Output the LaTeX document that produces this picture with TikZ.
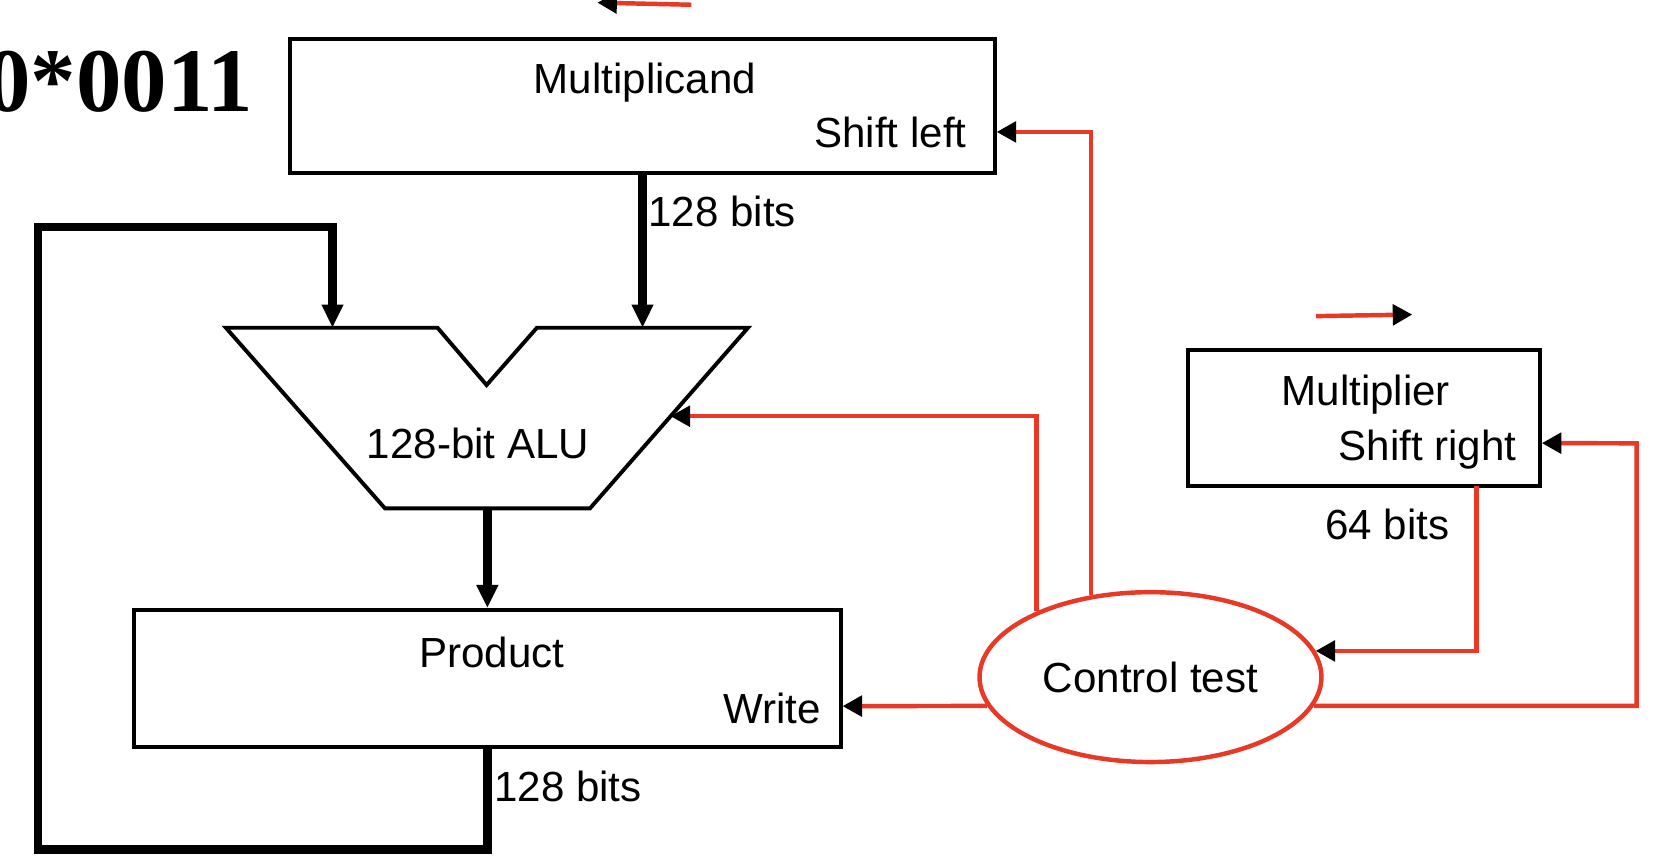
\documentclass[tikz,border=0pt]{standalone}
\usepackage{fontspec}
\setmainfont{Liberation Sans}
\newfontfamily\serifbold{Liberation Serif}
\usepackage{tikz}
\usetikzlibrary{arrows.meta,calc,shapes.geometric,positioning}
\definecolor{ctlred}{RGB}{232,56,38}

\begin{document}
\begin{tikzpicture}[x=0.02cm,y=-0.02cm,
  unit/.style={draw,line width=2.1pt,inner sep=0pt},
  lbl/.style={inner sep=0pt,font=\fontsize{22.7}{26}\selectfont},
  bus/.style={line width=4.6pt,-{Triangle[length=12.5pt,width=11pt]}},
  ctl/.style={ctlred,line width=2.4pt,-{Triangle[length=10.5pt,width=11pt,color=black]}}]
\useasboundingbox (0,0) rectangle (1568,812);

\node[anchor=base east,inner sep=0pt,font=\serifbold\bfseries\fontsize{49}{50}\selectfont] (title) at (240,106) {0*0011};

\node[unit,minimum width=13.35cm,minimum height=2.54cm] (mcand) at (608.75,100.5) {};
\node[lbl,anchor=base] (mcandlbl) at (611,89) {Multiplicand};
\node[lbl,anchor=base east] (shl) at (916,139.5) {Shift left};

\node[unit,minimum width=13.39cm,minimum height=2.6cm] (prod) at (461.75,643) {};
\node[lbl,anchor=base] (prodlbl) at (466,632) {Product};
\node[lbl,anchor=base east] (wr) at (778,685) {Write};

\node[unit,minimum width=6.67cm,minimum height=2.57cm] (mplier) at (1292.25,395.8) {};
\node[lbl,anchor=base] (mplierlbl) at (1294,384.6) {Multiplier};
\node[lbl,anchor=base east] (shr) at (1437,436.6) {Shift right};

\node[ellipse,draw=ctlred,line width=2.4pt,inner sep=0pt,minimum width=6.48cm,minimum height=3.22cm,
  font=\fontsize{22.7}{26}\selectfont] (ctrl) at (1090,641.5) {\raisebox{-0.1em}{Control test}};

\draw[line width=2.1pt] (214,310.5) coordinate (aluTL) -- (414.5,310.5) -- (461,364.8) -- (508.7,310.5)
  -- (708.7,310.5) coordinate (aluTR) -- (559,481.6) coordinate (aluBR) -- (364.7,481.6) coordinate (aluBL) -- cycle;
\node[lbl,anchor=base] (alulbl) at (453,434) {128-bit ALU};

\coordinate (ainL) at (315,310.5);
\coordinate (ainR) at (608.75,310.5);
\coordinate (aout) at (461.75,481.6);
\coordinate (fbBL) at (36,805);
\coordinate (fbTR) at (315,215);

\draw[bus] (mcand.south) -- (ainR);
\node[lbl,anchor=base west] (bits1) at (614,215) {128 bits};
\draw[bus] (aout) -- (prod.north);
\draw[bus] (prod.south) |- (fbBL) |- (fbTR) -- (ainL);
\node[lbl,anchor=base west] (bits2) at (468,759) {128 bits};
\node[lbl,anchor=base] (bits3) at (1314.5,511.6) {64 bits};

\coordinate (mcin) at ($(mcand.east)+(0,24.5)$);
\coordinate (wrin) at ($(prod.east)+(0,26)$);
\coordinate (mpin) at ($(mplier.east)+(0,24)$);
\coordinate (mpout) at (1399,460);
\coordinate (rr) at (1550.5,420);
\coordinate (aluin) at ($(aluTR)!0.49!(aluBR)$);

\draw[ctl] (ctrl.126) |- (mcin);
\draw[ctl] (ctrl.150.5) |- (aluin);
\draw[ctl] (ctrl.190.7) -- (wrin);
\draw[ctl] (mpout) |- (ctrl.9.4);
\draw[ctl] (ctrl.-10.3) -| (rr) -- (mpin);

\coordinate (tl0) at (655,4.5);
\coordinate (tl1) at (566,2.5);
\coordinate (tr0) at (1247,299.5);
\coordinate (tr1) at (1338,298);
\draw[ctl] (tl0) -- (tl1);
\draw[ctl] (tr0) -- (tr1);
\end{tikzpicture}
\end{document}
